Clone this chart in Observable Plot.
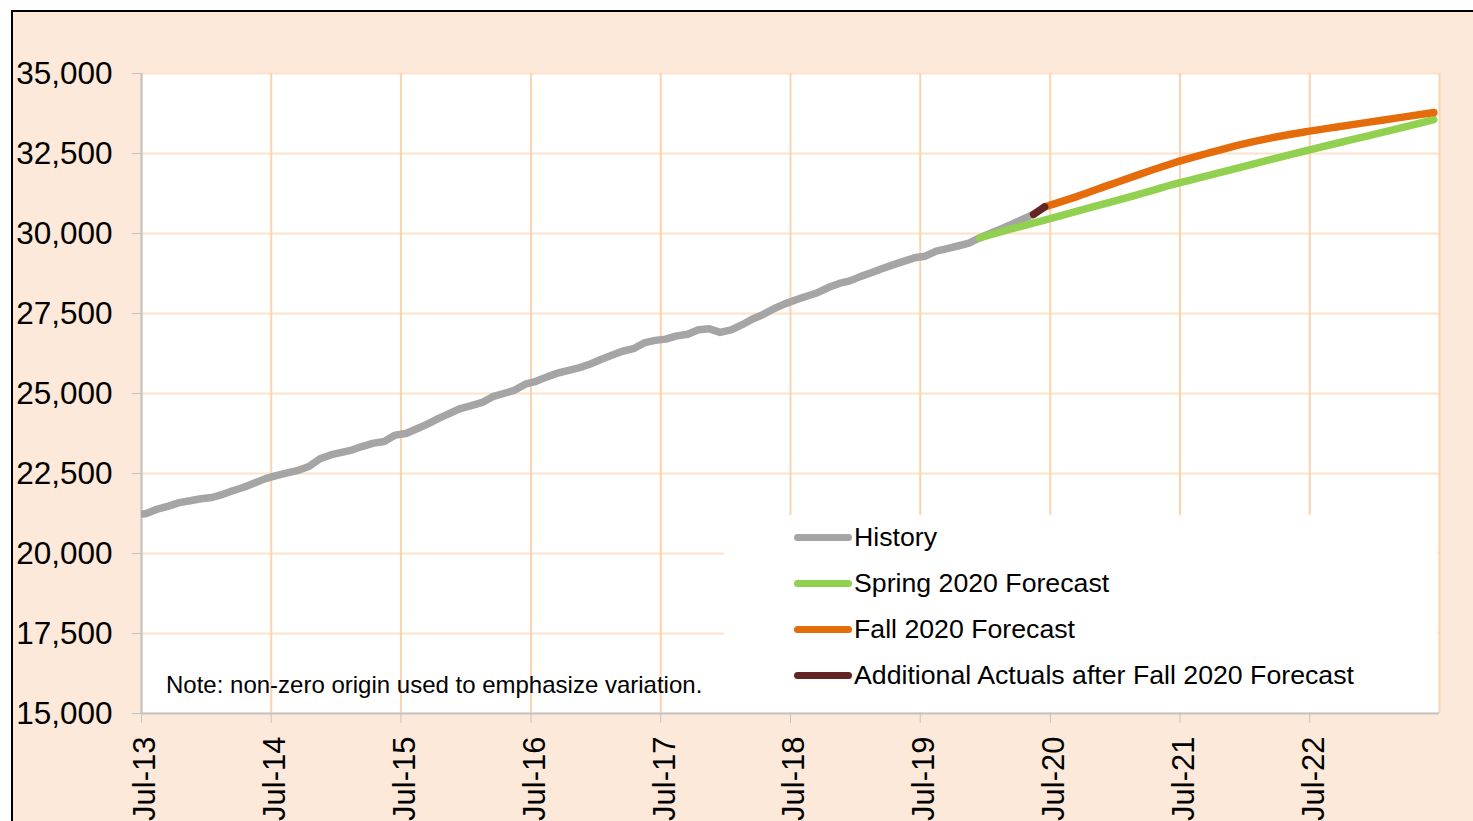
<!DOCTYPE html>
<html><head><meta charset="utf-8">
<script src="https://cdn.jsdelivr.net/npm/d3@7"></script>
<script src="https://cdn.jsdelivr.net/npm/@observablehq/plot@0.6"></script>
<style>
html,body{margin:0;padding:0;background:#fff;overflow:hidden;width:1473px;height:821px;font-family:"Liberation Sans",Arial,sans-serif}
#frame{position:absolute;left:11px;top:10px;width:1520px;height:900px;background:#FDE9D9;border-left:2px solid #000;border-top:2px solid #000}
#chart{position:absolute;left:0;top:0}
#note{position:absolute;left:166px;top:671px;font-size:24px;color:#000;white-space:nowrap;line-height:28px}
#legend{position:absolute;left:724px;top:515px;width:713px;height:197px;background:#fff}
.item{position:absolute;left:70px;height:30px;display:flex;align-items:center;font-size:26.7px;color:#000;white-space:nowrap}
.swatch{width:58px;height:7px;border-radius:4px;margin-right:2px}
</style></head>
<body>
<div id="frame"></div>
<div id="chart"></div>
<div id="note">Note: non-zero origin used to emphasize variation.</div>
<div id="legend"></div>
<script>
// ---- data ----
const historyStart = "2013-06";
const historyValues = [21200,
21250,21390,21480,21590,21650,21710,21750,21850,21960,22070,22200,22340,
22430,22520,22600,22720,22960,23080,23160,23240,23350,23450,23500,23700,
23750,23900,24050,24220,24380,24530,24620,24720,24900,25000,25100,25290,
25380,25520,25640,25720,25810,25920,26070,26200,26320,26400,26580,26660,
26700,26800,26850,26990,27020,26910,26990,27150,27320,27470,27650,27800,
27920,28040,28150,28310,28440,28520,28660,28780,28900,29020,29130,29240,
29290,29450,29530,29610,29700,29860,30010,30150,30290,30450,30600];
const actualsMonths = ["2020-05","2020-06"];
const actualsValues = [30600, 30830];
const springMonths = ["2019-12","2020-03","2020-06","2020-09","2020-12","2021-03","2021-06","2021-09","2021-12","2022-03","2022-06","2022-09","2022-12","2023-03","2023-06"];
const springValues = [29860,30150,30420,30700,30970,31250,31540,31800,32060,32320,32570,32820,33060,33300,33560];
const fallMonths = ["2020-06","2020-09","2020-12","2021-03","2021-06","2021-09","2021-12","2022-03","2022-06","2022-09","2022-12","2023-03","2023-06"];
const fallValues = [30830,31160,31520,31870,32210,32500,32770,32990,33170,33330,33480,33630,33780];
const xTickLabels = ["Jul-13","Jul-14","Jul-15","Jul-16","Jul-17","Jul-18","Jul-19","Jul-20","Jul-21","Jul-22"];
const xEndLabel = "Jul-23";
const yTicks = [15000,17500,20000,22500,25000,27500,30000,32500,35000];
const seriesNames = ["History","Spring 2020 Forecast","Fall 2020 Forecast","Additional Actuals after Fall 2020 Forecast"];
const seriesColors = ["#A5A5A5","#92D050","#E46C0A","#632523"];

// ---- build ----
const parseMonth = d3.utcParse("%Y-%m");
const parseTick = d3.utcParse("%b-%y");
const mid = d => d3.utcDay.offset(d, 14);
const hist = historyValues.map((v, i) => ({date: mid(d3.utcMonth.offset(parseMonth(historyStart), i)), value: v}));
const pairs = (ms, vs) => ms.map((m, i) => ({date: mid(parseMonth(m)), value: vs[i]}));
const actuals = pairs(actualsMonths, actualsValues);
const spring = pairs(springMonths, springValues);
const fall = pairs(fallMonths, fallValues);
const xTicks = xTickLabels.map(parseTick);
const xEnd = parseTick(xEndLabel);
const gridTicks = [...xTicks, xEnd];

const lineOpts = (c, curve, clip) => ({x: "date", y: "value", stroke: c, strokeWidth: 7.5, strokeLinecap: "round", strokeLinejoin: "round", curve, clip});

const chart = Plot.plot({
  width: 1473, height: 821,
  marginLeft: 141, marginRight: 34, marginTop: 73, marginBottom: 108,
  style: {background: "transparent", fontFamily: "Liberation Sans, Arial, sans-serif", color: "#000"},
  x: {type: "utc", domain: [xTicks[0], xEnd]},
  y: {domain: [15000, 35000]},
  marks: [
    Plot.frame({fill: "white", stroke: "none"}),
    Plot.gridY(yTicks, {stroke: "#FCE1CC", strokeWidth: 2, strokeOpacity: 1}),
    Plot.gridX(gridTicks, {stroke: "#FBD3AF", strokeWidth: 2, strokeOpacity: 1}),
    Plot.ruleX([xTicks[0]], {stroke: "#C4C4C4", strokeWidth: 2}),
    Plot.ruleY([15000], {stroke: "#C4C4C4", strokeWidth: 2}),
    Plot.line(hist, lineOpts(seriesColors[0], "linear", true)),
    Plot.line(spring, lineOpts(seriesColors[1], "monotone-x")),
    Plot.line(fall, lineOpts(seriesColors[2], "monotone-x")),
    Plot.line(actuals, lineOpts(seriesColors[3])),
    Plot.axisY(yTicks, {tickSize: 9, tickPadding: 20, tickFormat: d3.format(","), fontSize: 31.5, stroke: "#C4C4C4", fill: "#000", label: null}),
    Plot.axisX(xTicks, {tickSize: 10, tickFormat: () => "", stroke: "#C4C4C4", label: null}),
    Plot.axisX(xTicks, {tickSize: 0, tickPadding: 23, tickRotate: -90, tickFormat: d3.utcFormat("%b-%y"), fontSize: 31, fill: "#000", dx: 4, label: null})
  ]
});
document.getElementById("chart").appendChild(chart);

const legend = document.getElementById("legend");
seriesNames.forEach((n, i) => {
  const it = document.createElement("div");
  it.className = "item";
  it.style.top = (7 + i * 46) + "px";
  const sw = document.createElement("div");
  sw.className = "swatch";
  sw.style.background = seriesColors[i];
  it.appendChild(sw);
  const t = document.createElement("span");
  t.textContent = n;
  it.appendChild(t);
  legend.appendChild(it);
});
</script>
</body></html>
